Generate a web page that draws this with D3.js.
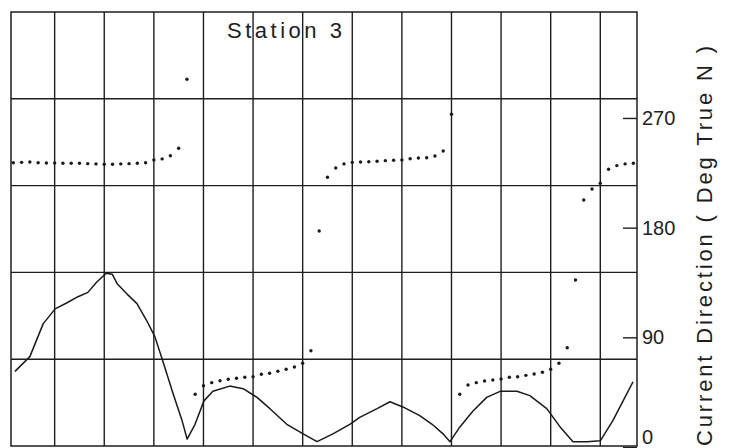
<!DOCTYPE html>
<html>
<head>
<meta charset="utf-8">
<script src="https://cdn.jsdelivr.net/npm/d3@7"></script>
<style>
  body { margin: 0; background: #fff; }
  text { font-family: "Liberation Sans", Arial, sans-serif; fill: #1e1e1e; }
</style>
</head>
<body>
<div id="chart"></div>
<script>
// Station 3 - current direction (dots) and current speed (line), 10 minute samples
var sampleMinutes = d3.range(10, 770, 10);   // 76 samples, 10 min apart

// direction, deg true N
var direction = [
  233.3, 233.6, 233.9, 233.3, 233.0, 233.0, 232.8, 232.8, 232.8, 232.5,
  232.3, 232.0, 232.0, 232.3, 232.5, 232.8, 233.3, 235.5, 236.4, 239.0,
  245.1, 301.8, 43.3, 50.3, 52.8, 54.4, 55.6, 56.4, 57.2, 57.7,
  59.7, 60.5, 62.1, 63.8, 65.7, 68.7, 79.0, 177.3, 221.3, 229.0,
  232.3, 233.6, 233.9, 234.1, 234.5, 235.0, 235.3, 235.5, 236.6, 237.2,
  237.4, 238.8, 242.9, 273.0, 43.3, 50.9, 52.8, 54.2, 55.0, 55.8,
  57.2, 57.7, 58.8, 59.9, 61.3, 63.8, 68.7, 81.5, 137.1, 202.7,
  211.7, 216.4, 227.9, 230.9, 232.3, 232.8
];

// speed curve (unlabelled left scale, cm/s), hours vs value
var speedHours = [
  0.20, 0.50, 0.77, 1.01, 1.25, 1.47, 1.67, 1.85, 2.04, 2.16,
  2.26, 2.46, 2.66, 2.86, 3.02, 3.18, 3.39, 3.57, 3.67, 3.83,
  4.01, 4.19, 4.53, 4.80, 5.08, 5.34, 5.68, 6.01, 6.29, 6.61,
  6.95, 7.15, 7.50, 7.76, 8.02, 8.36, 8.61, 8.83, 8.97, 9.17,
  9.43, 9.71, 9.98, 10.32, 10.58, 10.92, 11.19, 11.45, 11.73, 12.00,
  12.25, 12.46, 12.66
];
var speed = [
  8.6, 10.3, 14.1, 15.8, 16.5, 17.2, 17.7, 18.9, 19.9, 19.8,
  18.7, 17.5, 16.4, 14.4, 12.6, 9.8, 6.0, 2.9, 0.8, 2.5,
  5.2, 6.3, 6.9, 6.6, 5.6, 4.3, 2.5, 1.4, 0.5, 1.4,
  2.5, 3.3, 4.3, 5.1, 4.5, 3.5, 2.5, 1.4, 0.5, 2.2,
  4.0, 5.6, 6.3, 6.3, 5.8, 4.3, 2.2, 0.5, 0.5, 0.6,
  2.9, 5.2, 7.4
];

var dirTicks = [0, 90, 180, 270];
var speedGrid = [10, 20, 30, 40];
var hourGrid = d3.range(1, 13);

var title = "Station 3";
var axisTitle = "Current Direction ( Deg True N )";

var width = 729, height = 448;
var plot = {left: 11, right: 637, top: 12, bottom: 446};

var svg = d3.select("#chart")
  .append("svg")
    .attr("width", width)
    .attr("height", height);

var x = d3.scaleLinear()
    .domain([0.12, 12.74])
    .range([plot.left, plot.right]);

var ySpeed = d3.scaleLinear()
    .domain([0, 50])
    .range([plot.bottom, plot.top]);

var yDir = d3.scaleLinear()
    .domain([0, 360])
    .range([447, 8.3]);

// grid
var grid = svg.append("g")
    .attr("stroke", "#1e1e1e")
    .attr("stroke-width", 1.4);

grid.selectAll(".v")
  .data(hourGrid)
  .join("line")
    .attr("class", "v")
    .attr("x1", d => x(d)).attr("x2", d => x(d))
    .attr("y1", plot.top).attr("y2", plot.bottom);

grid.selectAll(".h")
  .data(speedGrid)
  .join("line")
    .attr("class", "h")
    .attr("x1", plot.left).attr("x2", plot.right)
    .attr("y1", d => ySpeed(d)).attr("y2", d => ySpeed(d));

svg.append("rect")
    .attr("x", plot.left).attr("y", plot.top)
    .attr("width", plot.right - plot.left)
    .attr("height", plot.bottom - plot.top)
    .attr("fill", "none")
    .attr("stroke", "#1e1e1e")
    .attr("stroke-width", 1.5);

// speed line
var line = d3.line()
    .x((d, i) => x(speedHours[i]))
    .y(d => ySpeed(d));

svg.append("path")
    .datum(speed)
    .attr("fill", "none")
    .attr("stroke", "#1a1a1a")
    .attr("stroke-width", 1.5)
    .attr("stroke-linejoin", "round")
    .attr("d", line);

// direction dots
svg.append("g")
    .attr("fill", "#1a1a1a")
  .selectAll("circle")
  .data(direction)
  .join("circle")
    .attr("cx", (d, i) => x(sampleMinutes[i] / 60))
    .attr("cy", d => yDir(d))
    .attr("r", 1.7);

// right axis, ticks pointing in
var rAxis = svg.append("g")
    .attr("transform", `translate(${plot.right},0)`)
    .call(d3.axisRight(yDir)
      .tickValues(dirTicks)
      .tickSizeInner(-14)
      .tickSizeOuter(0)
      .tickPadding(5));

rAxis.select(".domain").remove();
rAxis.selectAll("line").attr("stroke", "#1e1e1e").attr("stroke-width", 1.4);
rAxis.selectAll("text")
    .attr("font-family", "Liberation Sans, Arial, sans-serif")
    .attr("font-size", 20)
    .attr("fill", "#1e1e1e");
// the 0 label sits at the bottom edge, lift it so it stays inside
rAxis.selectAll("text").filter(d => d === 0).attr("y", -10);

// titles
svg.append("text")
    .attr("x", 227)
    .attr("y", 37.5)
    .attr("font-size", 22)
    .attr("textLength", 115)
    .attr("lengthAdjust", "spacing")
    .text(title);

svg.append("text")
    .attr("transform", "translate(712,446) rotate(-90)")
    .attr("font-size", 22)
    .attr("textLength", 400)
    .attr("lengthAdjust", "spacing")
    .text(axisTitle);
</script>
</body>
</html>
